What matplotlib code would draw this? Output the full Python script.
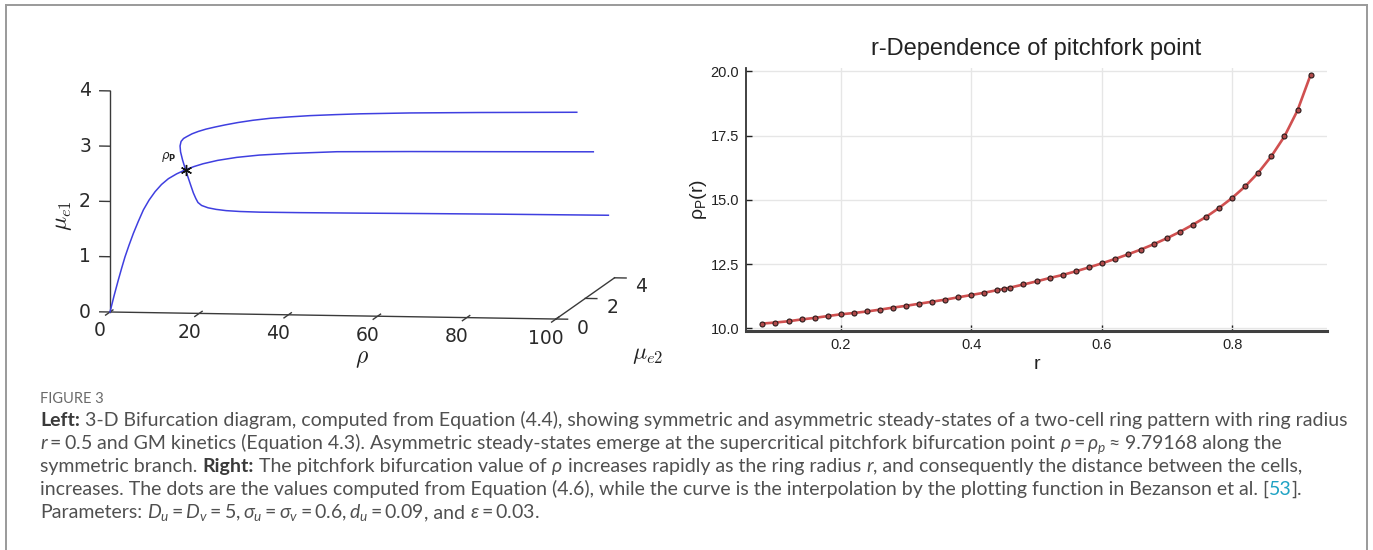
import numpy as np
import matplotlib
matplotlib.use("Agg")
import matplotlib.pyplot as plt
from matplotlib.lines import Line2D
from mpl_toolkits.mplot3d import proj3d

W, H, DPI = 1373, 550, 100

# ---------------- data: bifurcation branches (rho, mu_e1, mu_e2) ----------------
rho_pitchfork = 9.79168
mu_pitchfork = 2.18

# symmetric branch: mu_e1 = mu_e2
sym_rho = [0, 0.1, 0.26, 0.42, 0.6, 0.92, 1.3, 1.8, 2.37, 3.15, 4.08, 5.15, 6.4, 8.0,
           9.79168, 11.5, 13.4, 16.5, 20.6, 25.5, 31.6, 42.7, 59.0, 80.0, 100]
sym_mu = [0, 0.25, 0.49, 0.67, 0.84, 1.02, 1.20, 1.38, 1.56, 1.71, 1.84, 1.95, 2.04,
          2.115, 2.18, 2.23, 2.275, 2.33, 2.38, 2.42, 2.45, 2.49, 2.51, 2.53, 2.55]

# asymmetric branch with cell 1 high
up_rho = [9.79168, 9.83, 9.97, 10.29, 10.77, 11.46, 12.29, 13.57, 15.05, 16.81, 18.86,
          21.14, 24.08, 27.48, 31.29, 35.78, 40.26, 45.87, 51.47, 62.65, 78.33, 100]
up_mu1 = [2.18, 2.398, 2.576, 2.709, 2.806, 2.868, 2.909, 2.967, 3.016, 3.062, 3.104,
          3.147, 3.196, 3.243, 3.283, 3.315, 3.343, 3.368, 3.390, 3.418, 3.445, 3.476]
up_mu2 = [2.18, 1.962, 1.784, 1.651, 1.574, 1.532, 1.50, 1.47, 1.45, 1.44, 1.43,
          1.42, 1.41, 1.40, 1.40, 1.40, 1.40, 1.40, 1.40, 1.41, 1.415, 1.42]

# asymmetric branch with cell 2 high
lo_rho = [9.79168, 9.80, 9.82, 9.85, 9.95, 10.1, 10.62, 11.83, 13.44, 15.44, 18.37,
          22.67, 31.4, 44.65, 57.98, 75.8, 100]
lo_mu1 = [2.18, 1.997, 1.819, 1.664, 1.54, 1.448, 1.378, 1.323, 1.286, 1.252, 1.228,
          1.211, 1.20, 1.196, 1.199, 1.203, 1.21]
lo_mu2 = [2.18, 2.363, 2.541, 2.696, 2.83, 2.932, 3.022, 3.097, 3.154, 3.228, 3.292,
          3.349, 3.42, 3.484, 3.521, 3.557, 3.58]

rho_ticks = [0, 20, 40, 60, 80, 100]
mu1_ticks = [0, 1, 2, 3, 4]
mu2_ticks = [0, 2, 4]

# ---------------- data: pitchfork point versus ring radius ----------------
r_vals = [0.08, 0.10, 0.12, 0.14, 0.16, 0.18, 0.20, 0.22, 0.24, 0.26, 0.28, 0.30,
          0.32, 0.34, 0.36, 0.38, 0.40, 0.42, 0.44, 0.45, 0.46, 0.48, 0.50, 0.52,
          0.54, 0.56, 0.58, 0.60, 0.62, 0.64, 0.66, 0.68, 0.70, 0.72, 0.74, 0.76,
          0.78, 0.80, 0.82, 0.84, 0.86, 0.88, 0.90, 0.92]
rho_p_vals = [10.19, 10.23, 10.28, 10.35, 10.41, 10.48, 10.55, 10.60, 10.66, 10.73,
              10.81, 10.88, 10.96, 11.04, 11.12, 11.21, 11.30, 11.39, 11.49, 11.54,
              11.59, 11.71, 11.83, 11.96, 12.08, 12.22, 12.37, 12.53, 12.70, 12.88,
              13.07, 13.28, 13.51, 13.76, 14.04, 14.34, 14.69, 15.08, 15.53, 16.06,
              16.70, 17.47, 18.48, 19.86]
r_ticks = [0.2, 0.4, 0.6, 0.8]
rp_ticks = [10.0, 12.5, 15.0, 17.5, 20.0]

fig = plt.figure(figsize=(W / DPI, H / DPI), dpi=DPI)
fig.patch.set_facecolor("white")


def px(x, y):
    """image pixel (top-left origin) -> figure fraction"""
    return x / W, 1 - y / H


# panel frame (open at the bottom)
frame = dict(color="#9a9a9a", lw=1.4, transform=fig.transFigure)
fig.add_artist(Line2D([6 / W, 6 / W], [0, 1 - 5 / H], **frame))
fig.add_artist(Line2D([6 / W, 1367 / W], [1 - 5 / H, 1 - 5 / H], **frame))
fig.add_artist(Line2D([1367 / W, 1367 / W], [0, 1 - 5 / H], **frame))

# ================= left: 3-D bifurcation diagram =================
ax3 = fig.add_axes([0.05, 0.05, 0.4, 0.4 * W / H], projection="3d", proj_type="ortho")
ax3.view_init(elev=6.04, azim=-81.5)
ax3.set_box_aspect((1.0, 0.878, 0.493))
ax3.set_xlim(0, 100)
ax3.set_ylim(0, 4)
ax3.set_zlim(0, 4)
ax3.set_xticks([])
ax3.set_yticks([])
ax3.set_zticks([])
ax3.set_axis_off()
for ttl in (ax3.title, ax3._left_title, ax3._right_title):
    ttl.set_visible(False)
for axis in (ax3.xaxis, ax3.yaxis, ax3.zaxis):
    axis.label.set_visible(False)
    axis.offsetText.set_visible(False)

axis_col = "#3a3a3a"
ax_kw = dict(color=axis_col, lw=1.0, clip_on=False)
# axis lines: rho (front bottom), mu_e1 (front left), mu_e2 (right bottom)
ax3.plot([0, 100], [0, 0], [0, 0], **ax_kw)
ax3.plot([0, 0], [0, 0], [0, 4], **ax_kw)
ax3.plot([100, 100], [0, 4], [0, 0], **ax_kw)
for v in rho_ticks:
    ax3.plot([v, v], [-0.3, 0.2], [0, 0], **ax_kw)
for v in mu1_ticks:
    ax3.plot([0, -2.3], [0, 0], [v, v], **ax_kw)
for v in mu2_ticks:
    ax3.plot([100, 102.6], [v, v], [0, 0], **ax_kw)

blue = "#3f3fe0"
ax3.plot(sym_rho, sym_mu, sym_mu, color=blue, lw=1.1, clip_on=False)
ax3.plot(up_rho, up_mu2, up_mu1, color=blue, lw=1.1, clip_on=False)
ax3.plot(lo_rho, lo_mu2, lo_mu1, color=blue, lw=1.1, clip_on=False)
ax3.plot([rho_pitchfork], [mu_pitchfork], [mu_pitchfork], marker=(6, 2, 0),
         ms=8, mew=1.0, color="#111111", ls="none", clip_on=False)

# place the projected box so that its rho axis spans the intended pixels
fig.canvas.draw()


def to_disp(x, y, z):
    u, v, _ = proj3d.proj_transform(x, y, z, ax3.get_proj())
    return np.array(ax3.transData.transform((u, v)))


pO = to_disp(0, 0, 0)
pX = to_disp(100, 0, 0)
tO = np.array([110.0, H - 312.0])
tX = np.array([556.0, H - 319.0])
k = np.linalg.norm(tX - tO) / np.linalg.norm(pX - pO)
pos = ax3.get_position()
L, B, S = pos.x0 * W, pos.y0 * H, pos.width * W
L2 = tO[0] - k * (pO[0] - L)
B2 = tO[1] - k * (pO[1] - B)
S2 = k * S
ax3.set_position([L2 / W, B2 / H, S2 / W, S2 / H])
fig.canvas.draw()

# tick labels placed beside the projected tick positions
tick_kw = dict(fontsize=13.5, color="#2a2a2a", ha="center", va="center", family="DejaVu Sans")
for v in rho_ticks:
    d = to_disp(v, 0, 0) + np.array([-10, -19])
    fig.text(d[0] / W, d[1] / H, f"{v:g}", **tick_kw)
for v in mu1_ticks:
    d = to_disp(0, 0, v) + np.array([-25, 0])
    fig.text(d[0] / W, d[1] / H, f"{v:g}", **tick_kw)
for v in mu2_ticks:
    d = to_disp(100, v, 0) + np.array([27, -9])
    fig.text(d[0] / W, d[1] / H, f"{v:g}", **tick_kw)

# pitchfork label beside the marked point
d = to_disp(rho_pitchfork, mu_pitchfork, mu_pitchfork) + np.array([-17, 13])
fig.text(d[0] / W, d[1] / H, r"$\rho_{\mathbf{P}}$", fontsize=8.5, color="#222222",
         ha="center", va="center", math_fontfamily="dejavusans")

fig.text(*px(362, 358), r"$\rho$", fontsize=17, ha="center", va="center",
         math_fontfamily="cm", color="#222222")
fig.text(*px(62, 216), r"$\mu_{e1}$", fontsize=17, ha="center", va="center",
         rotation=90, math_fontfamily="cm", color="#222222")
fig.text(*px(648, 354), r"$\mu_{e2}$", fontsize=17, ha="center", va="center",
         math_fontfamily="cm", color="#222222")

# ================= right: r-dependence of the pitchfork point =================
narrow = ["Liberation Sans Narrow", "Liberation Sans", "DejaVu Sans"]
axr = fig.add_axes([746 / W, 1 - 331 / H, (1327 - 746) / W, (331 - 68) / H])
axr.plot(r_vals, rho_p_vals, color="#d05050", lw=1.9, zorder=3)
axr.plot(r_vals, rho_p_vals, ls="none", marker="o", ms=3.6, mfc="#b04a4a",
         mec="#2a1a1a", mew=0.8, zorder=4)
axr.set_xlim(0.0548, 0.9452)
axr.set_ylim(9.9, 20.13)
axr.set_xticks(r_ticks)
axr.set_yticks(rp_ticks)
axr.set_xticklabels([f"{t:.1f}" for t in r_ticks], family=narrow, fontsize=10.5)
axr.set_yticklabels([f"{t:.1f}" for t in rp_ticks], family=narrow, fontsize=10.5)
axr.grid(True, color="#e6e6e6", lw=1.0)
axr.set_axisbelow(True)
for side in ("top", "right"):
    axr.spines[side].set_visible(False)
axr.spines["left"].set_color("#333333")
axr.spines["left"].set_linewidth(1.3)
axr.spines["bottom"].set_color("#404040")
axr.spines["bottom"].set_linewidth(2.2)
axr.tick_params(direction="in", length=4, width=1.0, colors="#222222", pad=5)
axr.set_title("r-Dependence of pitchfork point", family=narrow, fontsize=17,
              pad=9, color="#222222")
axr.set_xlabel("r", family=narrow, fontsize=14, labelpad=3, color="#222222")
axr.set_ylabel(r"$\mathregular{\rho_P(r)}$", family=narrow, fontsize=14,
               labelpad=1, color="#222222")

# ================= caption =================
renderer = fig.canvas.get_renderer()
cap_font = "Lato"
base_color = "#505050"


def text_width(s, size, **kw):
    t = fig.text(0.5, 0.5, s, fontsize=size, **kw)
    w = t.get_window_extent(renderer=renderer).width
    t.remove()
    return w


def put_line(x, y, runs, size, draw=True):
    space = text_width("x x", size, family=cap_font) - text_width("xx", size, family=cap_font)
    x0 = x
    for s, style in runs:
        lead = len(s) - len(s.lstrip(" "))
        trail = len(s) - len(s.rstrip(" "))
        core = s.strip(" ")
        x += lead * space
        kw = dict(family=cap_font, color=base_color)
        kw.update(style)
        t = fig.text(*px(x, y), core, fontsize=size, ha="left", va="baseline",
                     math_fontfamily="custom", **kw)
        x += t.get_window_extent(renderer=renderer).width
        x += trail * space
        if not draw:
            t.remove()
    return x - x0


plt.rcParams["mathtext.rm"] = "Lato"
plt.rcParams["mathtext.it"] = "Lato:italic"
plt.rcParams["mathtext.bf"] = "Lato:bold"

bold = dict(weight="bold", color="#3a3a3a")
ital = dict(style="italic")
link = dict(color="#1fa3c4")

lines = [
    [("Left:", bold), (" 3-D Bifurcation diagram, computed from Equation (4.4), showing symmetric "
                       "and asymmetric steady-states of a two-cell ring pattern with ring radius", {})],
    [(r"$r=0.5$", {}), (" and GM kinetics (Equation 4.3). Asymmetric steady-states emerge at the "
                        "supercritical pitchfork bifurcation point ", {}),
     (r"$\rho=\rho_p\approx$", {}), (" 9.79168 along the", {})],
    [("symmetric branch. ", {}), ("Right:", bold),
     (" The pitchfork bifurcation value of ", {}), (r"$\rho$", {}),
     (" increases rapidly as the ring radius ", {}), ("r", ital),
     (", and consequently the distance between the cells,", {})],
    [("increases. The dots are the values computed from Equation (4.6), while the curve is the "
      "interpolation by the plotting function in Bezanson et al. [", {}), ("53", link), ("].", {})],
    [("Parameters: ", {}), (r"$D_u=D_v=5, \sigma_u=\sigma_v=0.6, d_u=0.09$", {}),
     (", and ", {}), (r"$\varepsilon=0.03$", {}), (".", {})],
]

ref_w = put_line(40, 426, lines[0], 12, draw=False)
cap_size = 12 * (1298 / ref_w)

fig.text(*px(40, 403), "FIGURE 3", family=cap_font, fontsize=cap_size * 0.75,
         color="#6a6a6a", ha="left", va="baseline")
for i, runs in enumerate(lines):
    put_line(40, 426 + 23 * i, runs, cap_size)

fig.savefig("out.png", dpi=DPI, facecolor="white")
